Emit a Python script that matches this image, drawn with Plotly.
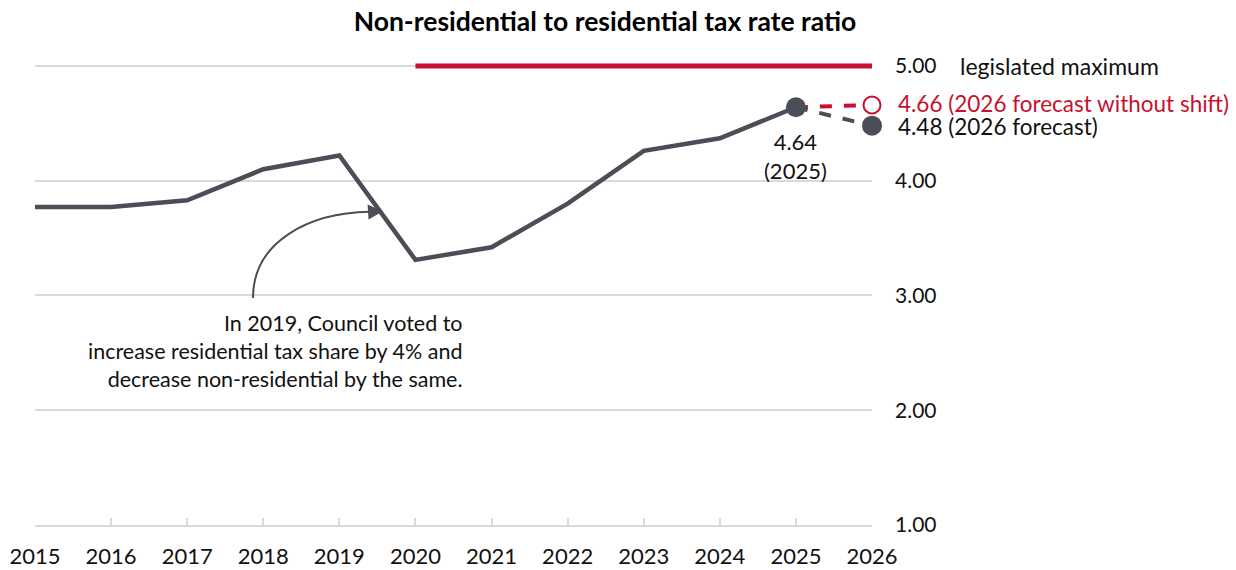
import plotly.graph_objects as go

years = [2015, 2016, 2017, 2018, 2019, 2020, 2021, 2022, 2023, 2024, 2025]
ratio = [3.77, 3.77, 3.83, 4.10, 4.22, 3.31, 3.42, 3.80, 4.26, 4.37, 4.64]
forecast_years = [2025, 2026]
forecast = [4.64, 4.48]
no_shift = [4.64, 4.66]
max_years = [2020, 2026]
max_vals = [5.00, 5.00]
x_ticks = list(range(2015, 2027))
y_ticks = [1, 2, 3, 4, 5]
y_tick_labels = ["1.00", "2.00", "3.00", "4.00", "5.00"]

GRAY = "#4b4d57"
RED = "#c8102e"
GRID = "#d9d9d9"
FONT = "Lato"
TXT = "#111111"

fig = go.Figure()

fig.add_trace(go.Scatter(x=max_years, y=max_vals, mode="lines",
                         line=dict(color=RED, width=5), hoverinfo="skip"))
fig.add_trace(go.Scatter(x=forecast_years, y=no_shift, mode="lines",
                         line=dict(color=RED, width=4, dash="dash")))
fig.add_trace(go.Scatter(x=forecast_years, y=forecast, mode="lines",
                         line=dict(color=GRAY, width=4, dash="dash")))
fig.add_trace(go.Scatter(x=years, y=ratio, mode="lines",
                         line=dict(color=GRAY, width=4.5)))
# end-point markers
fig.add_trace(go.Scatter(x=forecast_years[1:], y=no_shift[1:], mode="markers",
                         marker=dict(size=17, color="white", opacity=1, line=dict(color=RED, width=2)),
                         cliponaxis=False))
fig.add_trace(go.Scatter(x=forecast_years[1:], y=forecast[1:], mode="markers",
                         marker=dict(size=20, color=GRAY, opacity=1, line=dict(width=0)),
                         cliponaxis=False))
fig.add_trace(go.Scatter(x=years[-1:], y=ratio[-1:], mode="markers",
                         marker=dict(size=20, color=GRAY, opacity=1, line=dict(width=0)),
                         cliponaxis=False))

# curved arrow
fig.add_shape(type="path", xref="x", yref="y",
              path="M 2017.865 2.978 C 2017.865 3.476, 2018.614 3.721, 2019.40 3.729",
              line=dict(color=GRAY, width=2))
fig.add_annotation(x=2019.574, y=3.735, xref="x", yref="y", ax=-16, ay=1,
                   showarrow=True, arrowhead=2, arrowsize=1.5, arrowwidth=2,
                   arrowcolor=GRAY, text="")

fig.add_annotation(x=2020.651, y=2.515, xref="x", yref="y", xanchor="right", yanchor="middle",
                   align="right", showarrow=False,
                   text="In 2019, Council voted to<br>increase residential tax share by 4% and<br>decrease non-residential by the same.",
                   font=dict(family=FONT, size=21.5, color=TXT))

fig.add_annotation(x=2025, y=4.64, xref="x", yref="y", xanchor="center", yanchor="top",
                   yshift=-19, showarrow=False, align="center",
                   text="4.64<br>(2025)", font=dict(family=FONT, size=22, color=TXT))

fig.add_annotation(x=2026, y=5.0, xref="x", yref="y", xanchor="left", yanchor="middle",
                   xshift=86, showarrow=False, text="legislated maximum",
                   font=dict(family=FONT, size=23, color=TXT))
fig.add_annotation(x=2026, y=4.66, xref="x", yref="y", xanchor="left", yanchor="middle",
                   xshift=24, yshift=1, showarrow=False, text="4.66 (2026 forecast without shift)",
                   font=dict(family=FONT, size=22.5, color=RED))
fig.add_annotation(x=2026, y=4.48, xref="x", yref="y", xanchor="left", yanchor="middle",
                   xshift=24, yshift=-1, showarrow=False, text="4.48 (2026 forecast)",
                   font=dict(family=FONT, size=22.5, color=TXT))

fig.update_layout(
    width=1236, height=570,
    margin=dict(l=35, r=364, t=43, b=45),
    paper_bgcolor="white", plot_bgcolor="white",
    showlegend=False,
    font=dict(family=FONT, size=21, color=TXT),
    title=dict(text="<b>Non-residential to residential tax rate ratio</b>",
               x=605 / 1236, xanchor="center", xref="container",
               y=1 - 22 / 570, yanchor="middle", yref="container",
               font=dict(family=FONT, size=26.5, color="#000000")),
    xaxis=dict(range=[2015, 2026], tickvals=x_ticks, ticktext=[str(v) for v in x_ticks],
               showgrid=False, zeroline=False, showline=True, linecolor=GRID, linewidth=2,
               ticks="inside", ticklen=7, tickwidth=1.5, tickcolor=GRID, automargin=False,
               ticklabelstandoff=11, tickfont=dict(family=FONT, size=22, color=TXT)),
    yaxis=dict(range=[1, 5.2], tickvals=y_ticks, ticktext=y_tick_labels, side="right",
               showgrid=True, gridcolor=GRID, gridwidth=2, zeroline=False, showline=False,
               ticks="", ticklabelstandoff=22, automargin=False,
               tickfont=dict(family=FONT, size=21, color=TXT)),
)

fig.write_html("out.html")
